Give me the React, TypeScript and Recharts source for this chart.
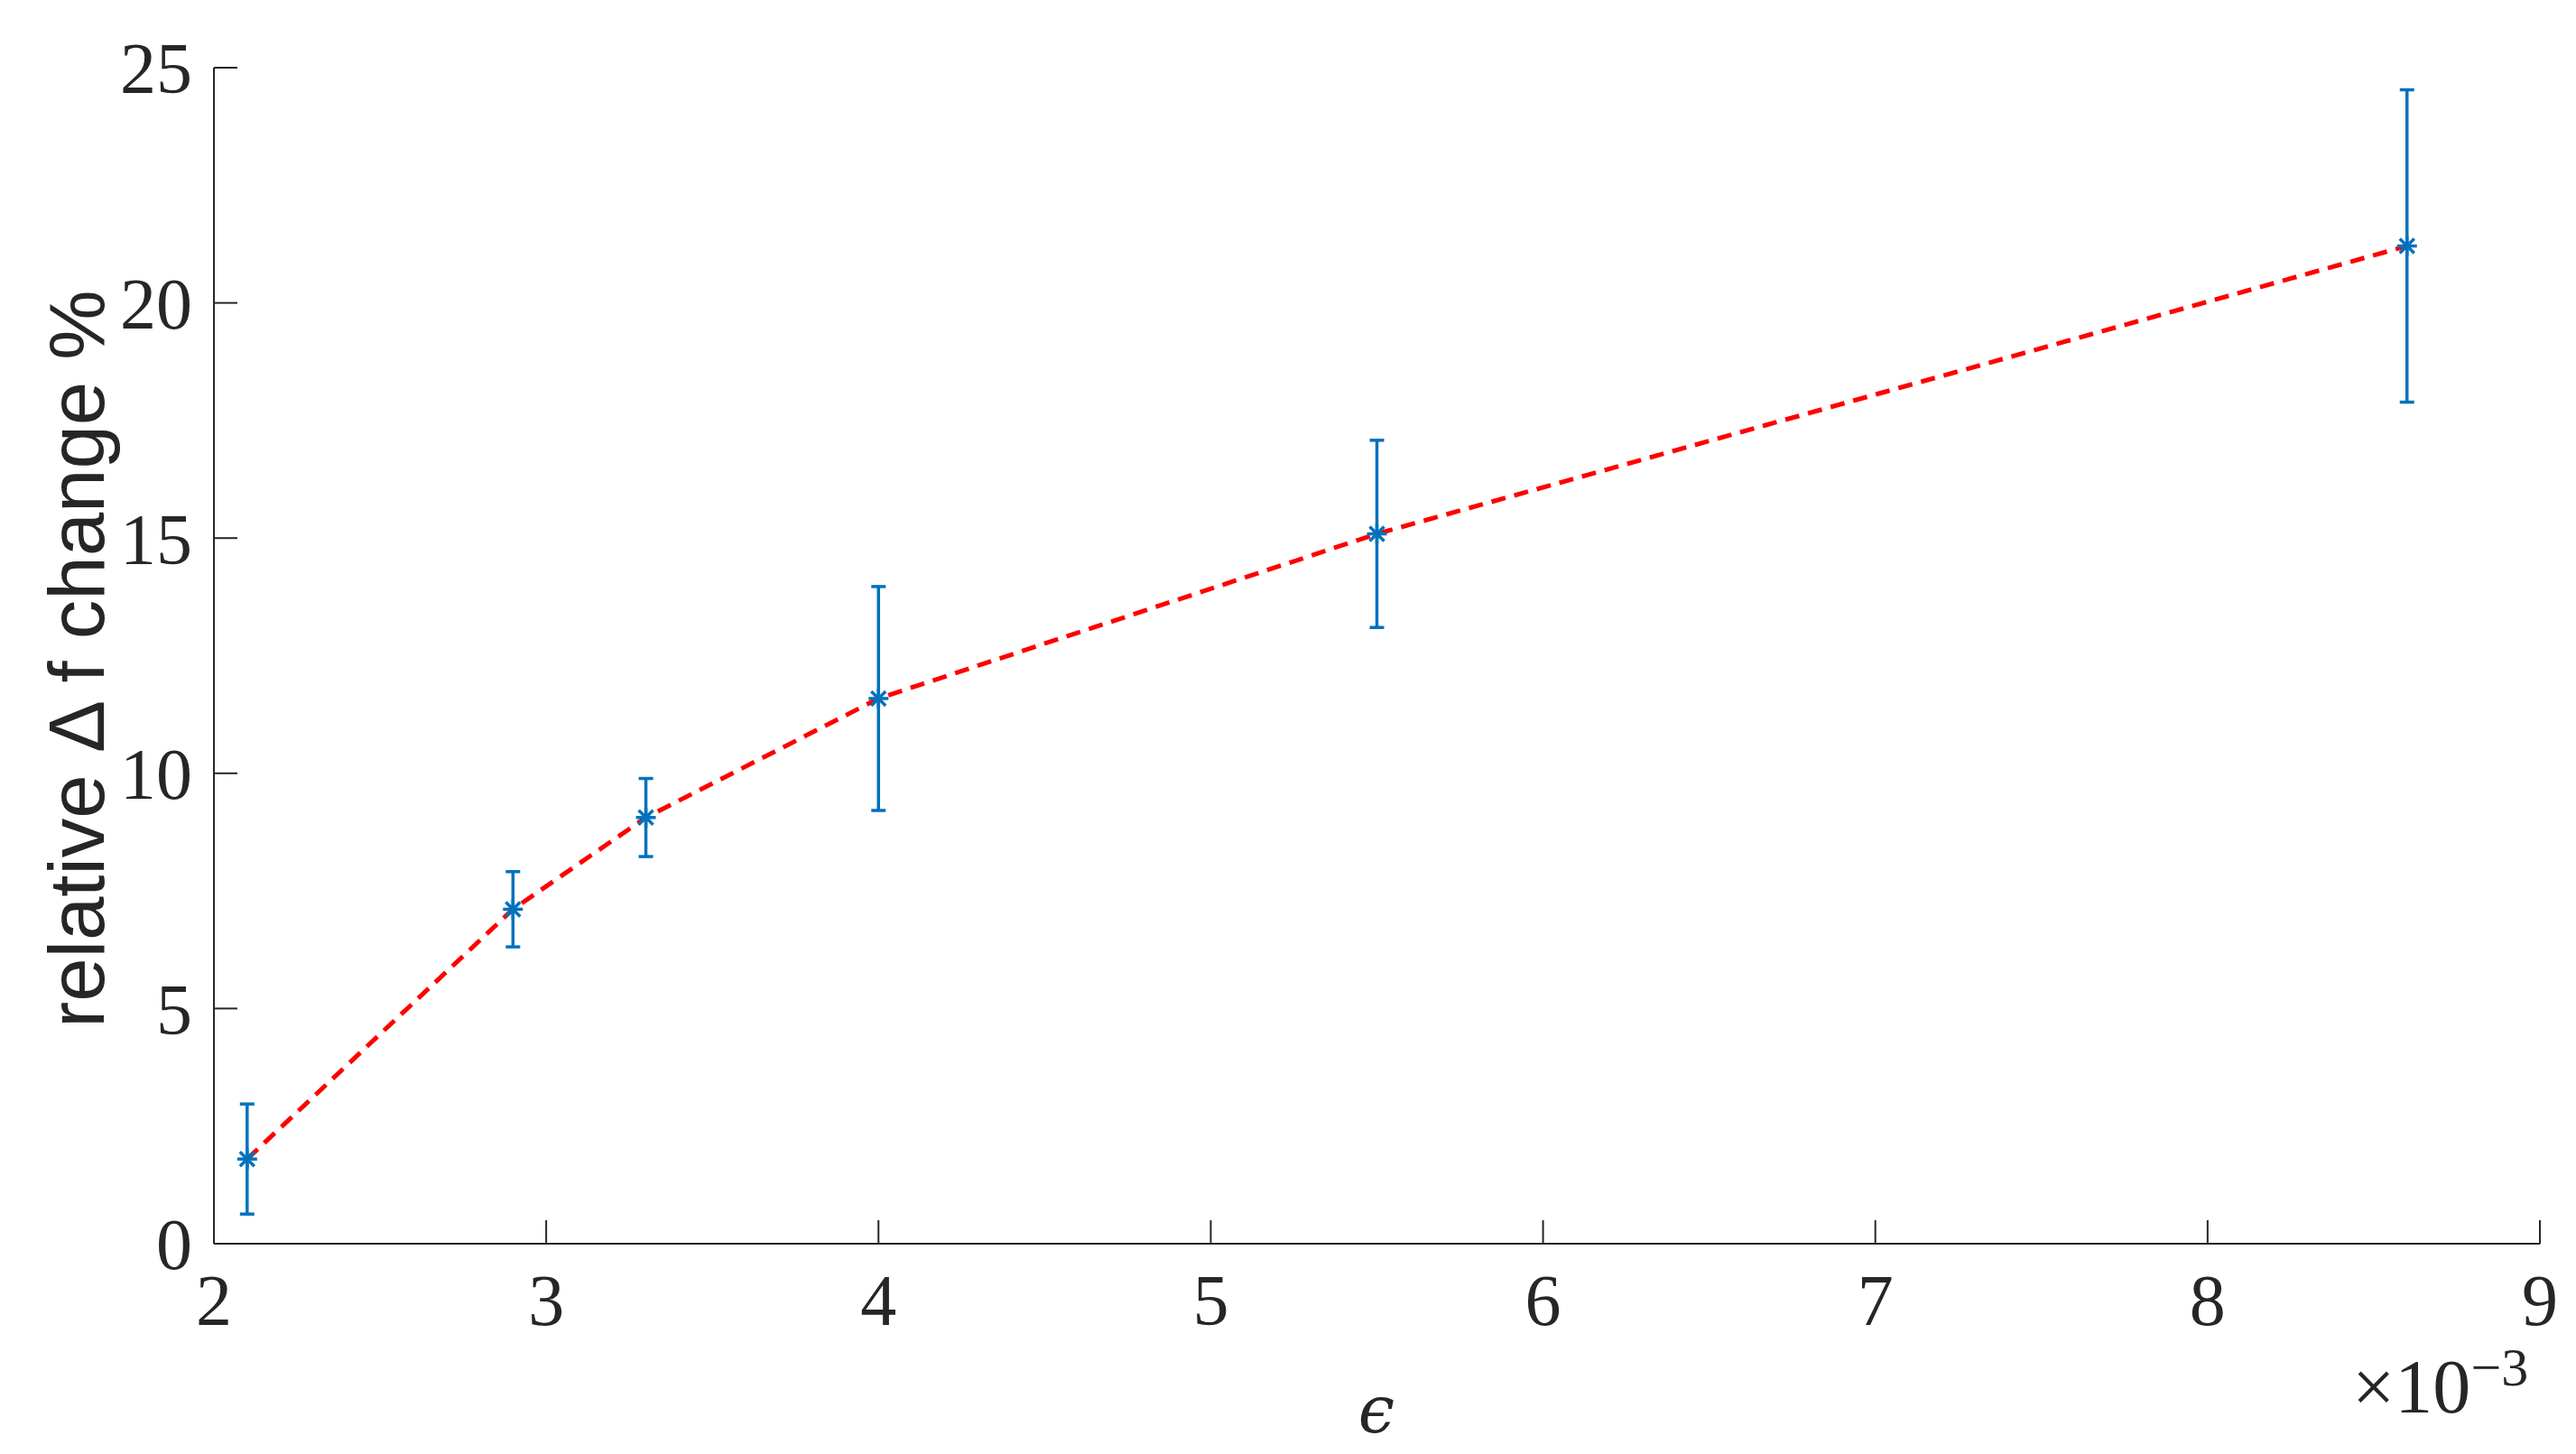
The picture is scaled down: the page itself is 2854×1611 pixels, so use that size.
import React from 'react'
import { ComposedChart, Line, Scatter, XAxis, YAxis, ErrorBar } from 'recharts'

// strain (x 10^-3) vs relative frequency change, with std error bars
const epsilon = [2.1, 2.9, 3.3, 4.0, 5.5, 8.6]
const deltaF = [1.8, 7.11, 9.06, 11.59, 15.09, 21.21]
const errors = [1.17, 0.8, 0.83, 2.38, 1.99, 3.32]
const xTicks = [2, 3, 4, 5, 6, 7, 8, 9]
const yTicks = [0, 5, 10, 15, 20, 25]

const W = 2854
const H = 1611
const AXIS = '#262626'
const BLUE = '#0072BD'
const RED = '#FF0000'
const tickFont = '"Liberation Serif", "DejaVu Serif", serif'

const data = epsilon.map((x, i) => ({ x, y: deltaF[i], err: errors[i] }))

// matlab style '*' marker
const Asterisk = (props: any) => {
  const { cx, cy } = props
  if (cx == null || cy == null) return null
  const r = 11
  const d = 8
  return (
    <g stroke={BLUE} strokeWidth={3.5}>
      <line x1={cx - r} y1={cy} x2={cx + r} y2={cy} />
      <line x1={cx} y1={cy - r} x2={cx} y2={cy + r} />
      <line x1={cx - d} y1={cy - d} x2={cx + d} y2={cy + d} />
      <line x1={cx - d} y1={cy + d} x2={cx + d} y2={cy - d} />
    </g>
  )
}

export default function App() {
  return (
    <div style={{ position: 'absolute', left: 0, top: 0, width: W, height: H, background: '#fff' }}>
      <ComposedChart
        width={W}
        height={H}
        data={data}
        margin={{ top: 75, right: 40, bottom: 100, left: 100 }}
      >
        <XAxis
          type="number"
          dataKey="x"
          domain={[2, 9]}
          ticks={xTicks}
          height={133}
          tickSize={-26}
          tickMargin={59}
          axisLine={{ stroke: AXIS, strokeWidth: 2 }}
          tickLine={{ stroke: AXIS, strokeWidth: 2 }}
          tick={{ fill: AXIS, fontSize: 80, fontFamily: tickFont }}
          allowDataOverflow
        />
        <YAxis
          type="number"
          domain={[0, 25]}
          ticks={yTicks}
          width={137}
          tickSize={-26}
          tickMargin={50}
          axisLine={{ stroke: AXIS, strokeWidth: 2 }}
          tickLine={{ stroke: AXIS, strokeWidth: 2 }}
          tick={{ fill: AXIS, fontSize: 80, fontFamily: tickFont }}
          allowDataOverflow
        />
        <Line
          type="linear"
          dataKey="y"
          stroke={RED}
          strokeWidth={5}
          strokeDasharray="16 10"
          dot={false}
          activeDot={false}
          isAnimationActive={false}
        />
        <Scatter dataKey="y" shape={<Asterisk />} isAnimationActive={false}>
          <ErrorBar dataKey="err" direction="y" width={8} strokeWidth={3.5} stroke={BLUE} isAnimationActive={false} />
        </Scatter>
      </ComposedChart>

      <svg
        width={W}
        height={H}
        style={{ position: 'absolute', left: 0, top: 0, pointerEvents: 'none' }}
      >
        <text
          x={115}
          y={730}
          transform="rotate(-90 115 730)"
          textAnchor="middle"
          fontFamily='"Liberation Sans", Arial, sans-serif'
          fontSize={87}
          fill={AXIS}
        >
          relative Δ f change %
        </text>
        <text
          x={1525}
          y={1587}
          textAnchor="middle"
          fontFamily='"DejaVu Serif", serif'
          fontStyle="italic"
          fontSize={72}
          fill={AXIS}
        >
          ϵ
        </text>
        <text x={2606} y={1565} fontFamily={tickFont} fontSize={84} fill={AXIS}>
          ×10
          <tspan dy={-30} fontSize={60}>−3</tspan>
        </text>
      </svg>
    </div>
  )
}
